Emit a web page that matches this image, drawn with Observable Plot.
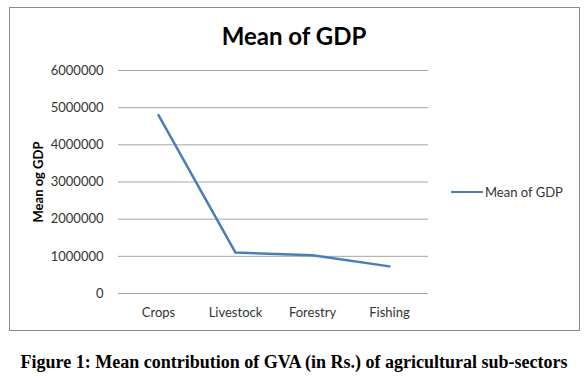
<!DOCTYPE html>
<html>
<head>
<meta charset="utf-8">
<script src="https://cdn.jsdelivr.net/npm/d3@7"></script>
<script src="https://cdn.jsdelivr.net/npm/@observablehq/plot@0.6"></script>
<style>
  html, body { margin: 0; padding: 0; background: #fff; }
  #wrap { position: relative; width: 588px; height: 384px; overflow: hidden; font-family: Lato, "Open Sans", sans-serif; }
  #box { position: absolute; left: 9px; top: 7px; width: 571px; height: 324px; border: 1px solid #8a8a8a; box-sizing: border-box; }
  #title { position: absolute; left: 0; width: 588px; top: 21px; text-align: center; font-weight: bold; font-size: 24px; color: #000; }
  #chart { position: absolute; left: 0; top: 0; }
  #legend { position: absolute; left: 451px; top: 184px; font-size: 13px; color: #333; display: flex; align-items: center; }
  #legend span.sw { display: inline-block; width: 32px; height: 2.5px; background: #4a7ebb; margin-right: 2px; }
  #caption { position: absolute; left: 0; width: 588px; top: 352px; text-align: center; font-family: "Liberation Serif", "DejaVu Serif", serif; font-weight: bold; font-size: 18px; color: #000; }
</style>
</head>
<body>
<div id="wrap">
  <div id="box"></div>
  <div id="chart"></div>
  <div id="title">Mean of GDP</div>
  <div id="legend"><span class="sw"></span><span>Mean of GDP</span></div>
  <div id="caption">Figure 1: Mean contribution of GVA (in Rs.) of agricultural sub-sectors</div>
</div>
<script>
const sectors = ["Crops", "Livestock", "Forestry", "Fishing"];
const meanGDP = [4800000, 1100000, 1030000, 730000];
const yTicks = [0, 1000000, 2000000, 3000000, 4000000, 5000000, 6000000];
const yLabel = "Mean og GDP";

const data = sectors.map((s, i) => ({sector: s, value: meanGDP[i]}));

const chart = Plot.plot({
  width: 588,
  height: 340,
  marginLeft: 118,
  marginRight: 160,
  marginTop: 70,
  marginBottom: 47,
  style: {fontFamily: "Lato, 'Open Sans', sans-serif", fontSize: "13px", color: "#333", background: "transparent"},
  x: {type: "point", domain: sectors, padding: 0.5, label: null},
  y: {domain: [0, 6000000], label: null},
  marks: [
    Plot.ruleY(yTicks.slice(1), {stroke: "#a6a6a6", strokeOpacity: 1, strokeWidth: 1}),
    Plot.ruleY([0], {stroke: "#a6a6a6", strokeWidth: 1}),
    Plot.ruleX([0], {x: () => null, frameAnchor: "left", stroke: "#a6a6a6"}),
    Plot.axisY({ticks: yTicks, tickFormat: d => String(d), tickSize: 0, tickPadding: 15, fontSize: 13, label: null}),
    Plot.axisX({tickSize: 0, tickPadding: 14, fontSize: 13, label: null}),
    Plot.line(data, {x: "sector", y: "value", stroke: "#4a7ebb", strokeWidth: 2.5}),
    Plot.text([yLabel], {frameAnchor: "left", textAnchor: "middle", dx: -80, rotate: -90, fontWeight: "bold", fontSize: 13, fill: "#000"})
  ]
});
document.getElementById("chart").appendChild(chart);
</script>
</body>
</html>
